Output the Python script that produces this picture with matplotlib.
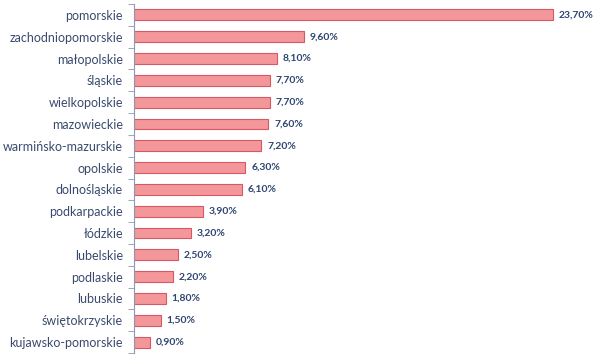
import matplotlib
matplotlib.use("Agg")
import matplotlib.pyplot as plt
import numpy as np

categories = ["pomorskie", "zachodniopomorskie", "małopolskie", "śląskie", "wielkopolskie",
              "mazowieckie", "warmińsko-mazurskie", "opolskie", "dolnośląskie", "podkarpackie",
              "łódzkie", "lubelskie", "podlaskie", "lubuskie", "świętokrzyskie", "kujawsko-pomorskie"]
values = [23.7, 9.6, 8.1, 7.7, 7.7, 7.6, 7.2, 6.3, 6.1, 3.9, 3.2, 2.5, 2.2, 1.8, 1.5, 0.9]

plt.rcParams['font.family'] = ['Lato', 'DejaVu Sans']
text_color = "#3A4A6E"

fig = plt.figure(figsize=(6.0, 3.57), dpi=100)
ax = fig.add_axes([134/600, 4/357, (576-134)/600, (353-4)/357])

y = np.arange(len(categories))
ax.barh(y, values, height=0.5, color="#F4979B", edgecolor="#D65864", linewidth=0.8)
ax.set_ylim(len(categories) - 0.5, -0.5)
ax.set_xlim(0, 25)

for yi, v in zip(y, values):
    ax.text(v + 0.33, yi, f"{v:.2f}".replace(".", ",") + "%", va="center", ha="left",
            fontsize=7.5, fontweight="bold", color="#2E4570")

ax.set_yticks(y)
ax.set_yticklabels(categories, fontsize=9, color=text_color)
ax.tick_params(axis="y", which="major", length=0, pad=8)
ax.set_yticks(np.arange(-0.5, len(categories), 1), minor=True)
ax.tick_params(axis="y", which="minor", length=4, color="#8A9AB0", direction="out")
ax.set_xticks([])
for s in ["top", "right", "bottom"]:
    ax.spines[s].set_visible(False)
ax.spines["left"].set_color("#8A9AB0")
ax.spines["left"].set_linewidth(0.8)

fig.savefig("out.png", dpi=100)
